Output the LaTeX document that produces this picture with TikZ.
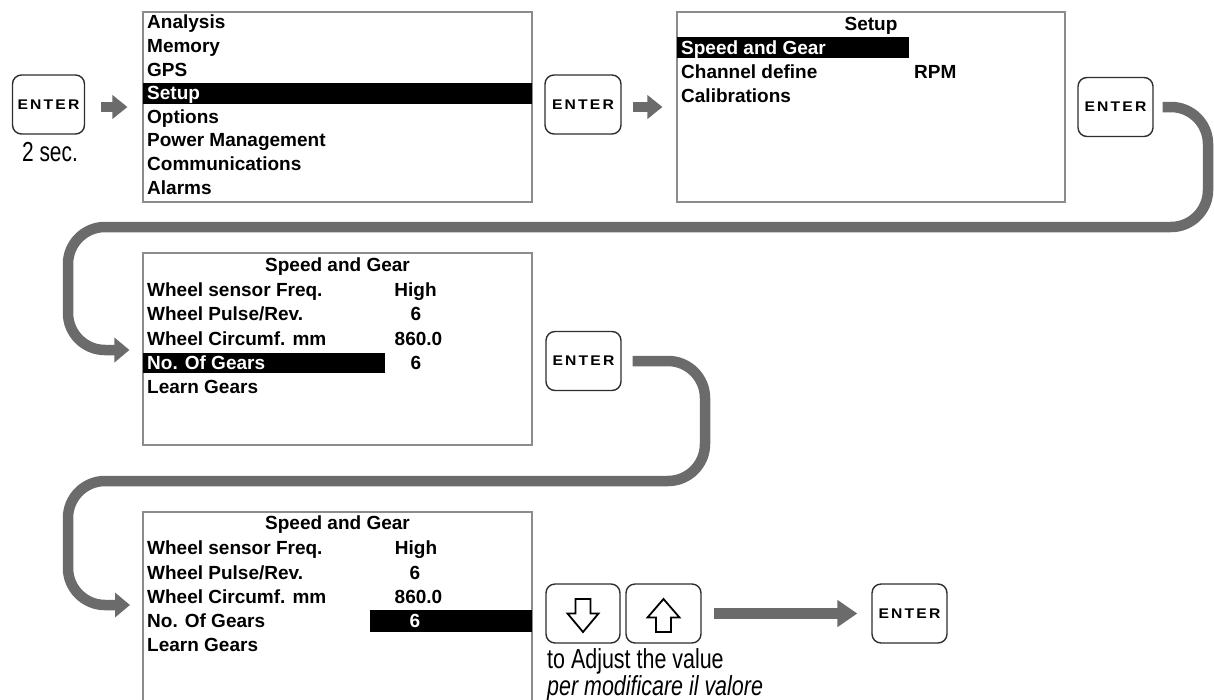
\documentclass[tikz,border=0pt]{standalone}
\usepackage{fontspec}
\usepackage{graphicx}
\setmainfont{Liberation Sans}
\newfontfamily\keyfont[LetterSpace=14]{Liberation Sans}
\usetikzlibrary{arrows.meta}
\definecolor{flowgray}{HTML}{6B6B6B}
\definecolor{framegray}{HTML}{8C8C8C}
\definecolor{keyedge}{HTML}{2E2E2E}

\begin{document}
\begin{tikzpicture}[x=1pt,y=-1pt,
  menubox/.style={draw=framegray,line width=1.1pt,inner sep=0,minimum width=389pt},
  hibar/.style={fill=black,draw=none},
  item/.style={font=\fontsize{19}{19}\selectfont\bfseries,inner sep=0,
    text height=13.6pt,text depth=0pt,anchor=west},
  val/.style={item,anchor=center},
  keybox/.style={draw=keyedge,line width=1.4pt,rounded corners=9pt,
    minimum width=75pt,minimum height=59pt,inner sep=0,fill=white},
  enterkey/.style={keybox,font=\keyfont\bfseries\fontsize{14}{14}\selectfont},
  blockarrow/.style={draw=flowgray,line width=10pt,-{Triangle[width=23pt,length=15pt]}},
  flow/.style={draw=flowgray,line width=10.5pt,rounded corners=37pt,
    -{Triangle[width=24pt,length=15pt]}},
  glyph/.style={draw=black,line width=1.8pt,line join=miter,fill=white},
  note/.style={inner sep=0,anchor=base west,font=\fontsize{27.5}{27.5}\selectfont}
]
\useasboundingbox (0,0) rectangle (1214,699);
\clip (0,0) rectangle (1214,699);

% ---- step 1: hold ENTER, main menu
\node[enterkey,minimum width=72pt] (enter1) at (48.5,104.5) {\scalebox{1.12}[1]{ENTER}};
\node[note,anchor=center] (hold) at (50,152) {\scalebox{0.76}[1]{2 sec.}};

\node[menubox,minimum height=190pt] (menu1) at (337.5,107) {};
\fill[hibar] (143,83) rectangle (532,104);
\node[item] (m1a) at (147,22) {Analysis};
\node[item] (m1b) at (147,45.6) {Memory};
\node[item] (m1c) at (147,69.2) {GPS};
\node[item,text=white] (m1d) at (147,92.8) {Setup};
\node[item] (m1e) at (147,116.4) {Options};
\node[item] (m1f) at (147,140) {Power Management};
\node[item] (m1g) at (147,163.6) {Communications};
\node[item] (m1h) at (147,187.2) {Alarms};

\draw[blockarrow] ([xshift=16pt]enter1.east |- menu1.west) -- ([xshift=-15pt]menu1.west);

% ---- step 2: Setup menu
\node[enterkey,minimum width=76pt] (enter2) at (583,104.5) {\scalebox{1.12}[1]{ENTER}};
\node[menubox,minimum width=388pt,minimum height=190pt] (menu2) at (871,107) {};
\fill[hibar] (677,37) rectangle (909,58);
\node[val] (m2t) at (871,24) {Setup};
\node[item,text=white] (m2a) at (681,48) {Speed and Gear};
\node[item] (m2b) at (681,72) {Channel define};
\node[item] (m2bv) at (914,72) {RPM};
\node[item] (m2c) at (681,96) {Calibrations};

\draw[blockarrow] ([xshift=11pt]enter2.east |- menu2.west) -- ([xshift=-14pt]menu2.west);

% ---- step 3: Speed and Gear menu
\node[enterkey] (enter3) at (1115.5,107) {\scalebox{1.12}[1]{ENTER}};
\node[menubox,minimum height=192pt] (menu3) at (337.5,349) {};
\fill[hibar] (143,353) rectangle (385,373);
\node[val] (m3t) at (337.5,265) {Speed and Gear};
\node[item] (m3a) at (147,290) {Wheel sensor Freq.};
\node[val] (m3av) at (415.5,290) {High};
\node[item] (m3b) at (147,314) {Wheel Pulse/Rev.};
\node[val] (m3bv) at (416,314) {6};
\node[item] (m3c) at (147,339) {Wheel Circumf. mm};
\node[val] (m3cv) at (418.5,339) {860.0};
\node[item,text=white] (m3d) at (147,363) {No. Of Gears};
\node[val] (m3dv) at (416,363) {6};
\node[item] (m3e) at (147,387) {Learn Gears};

\draw[flow] ([xshift=9pt]enter3.east) -- (1208,107) -- (1208,227) -- (68,227)
  -- (68,350) -- ([xshift=-13pt]menu3.west |- 0,350);

% ---- step 4: value editing
\node[enterkey] (enter4) at (583.5,361) {\scalebox{1.12}[1]{ENTER}};
\node[menubox,minimum height=260pt] (menu4) at (337.5,642) {};
\fill[hibar] (370,610) rectangle (532,632);
\node[val] (m4t) at (337.5,523) {Speed and Gear};
\node[item] (m4a) at (147,548) {Wheel sensor Freq.};
\node[val] (m4av) at (416,548) {High};
\node[item] (m4b) at (147,573) {Wheel Pulse/Rev.};
\node[val] (m4bv) at (415,573) {6};
\node[item] (m4c) at (147,597) {Wheel Circumf. mm};
\node[val] (m4cv) at (418.5,597) {860.0};
\node[item] (m4d) at (147,621) {No. Of Gears};
\node[val,text=white] (m4dv) at (415,621) {6};
\node[item] (m4e) at (147,645) {Learn Gears};

\coordinate (in4) at (130,605);
\draw[flow] ([xshift=11pt]enter4.east) -- (705,361) -- (705,481) -- (68,481)
  -- (68,605) -- (in4);

% ---- arrow keys and confirm
\node[keybox,minimum width=74pt] (down) at (583,613.5) {};
\node[keybox] (up) at (663.5,613.5) {};
\begin{scope}[shift={(down.center)}]
  \draw[glyph] (-7.5,-14.5) -- (7.5,-14.5) -- (7.5,0) -- (15.5,0) -- (0,18.5)
    -- (-15.5,0) -- (-7.5,0) -- cycle;
\end{scope}
\begin{scope}[shift={(up.center)}]
  \draw[glyph] (0,-14.5) -- (16,4) -- (7.5,4) -- (7.5,18.5) -- (-7.5,18.5)
    -- (-7.5,4) -- (-16,4) -- cycle;
\end{scope}
\node[enterkey] (enter5) at (909.5,613.5) {\scalebox{1.12}[1]{ENTER}};
\draw[draw=flowgray,line width=11pt,-{Triangle[width=26pt,length=20pt]}]
  ([xshift=12pt]up.east) -- ([xshift=-14pt]enter5.west);

\node[note] (adjust) at (547,668) {\scalebox{0.78}[1]{to Adjust the value}};
\node[note] (adjustit) at (547,695) {\scalebox{0.78}[1]{\itshape per modificare il valore}};
\end{tikzpicture}
\end{document}
